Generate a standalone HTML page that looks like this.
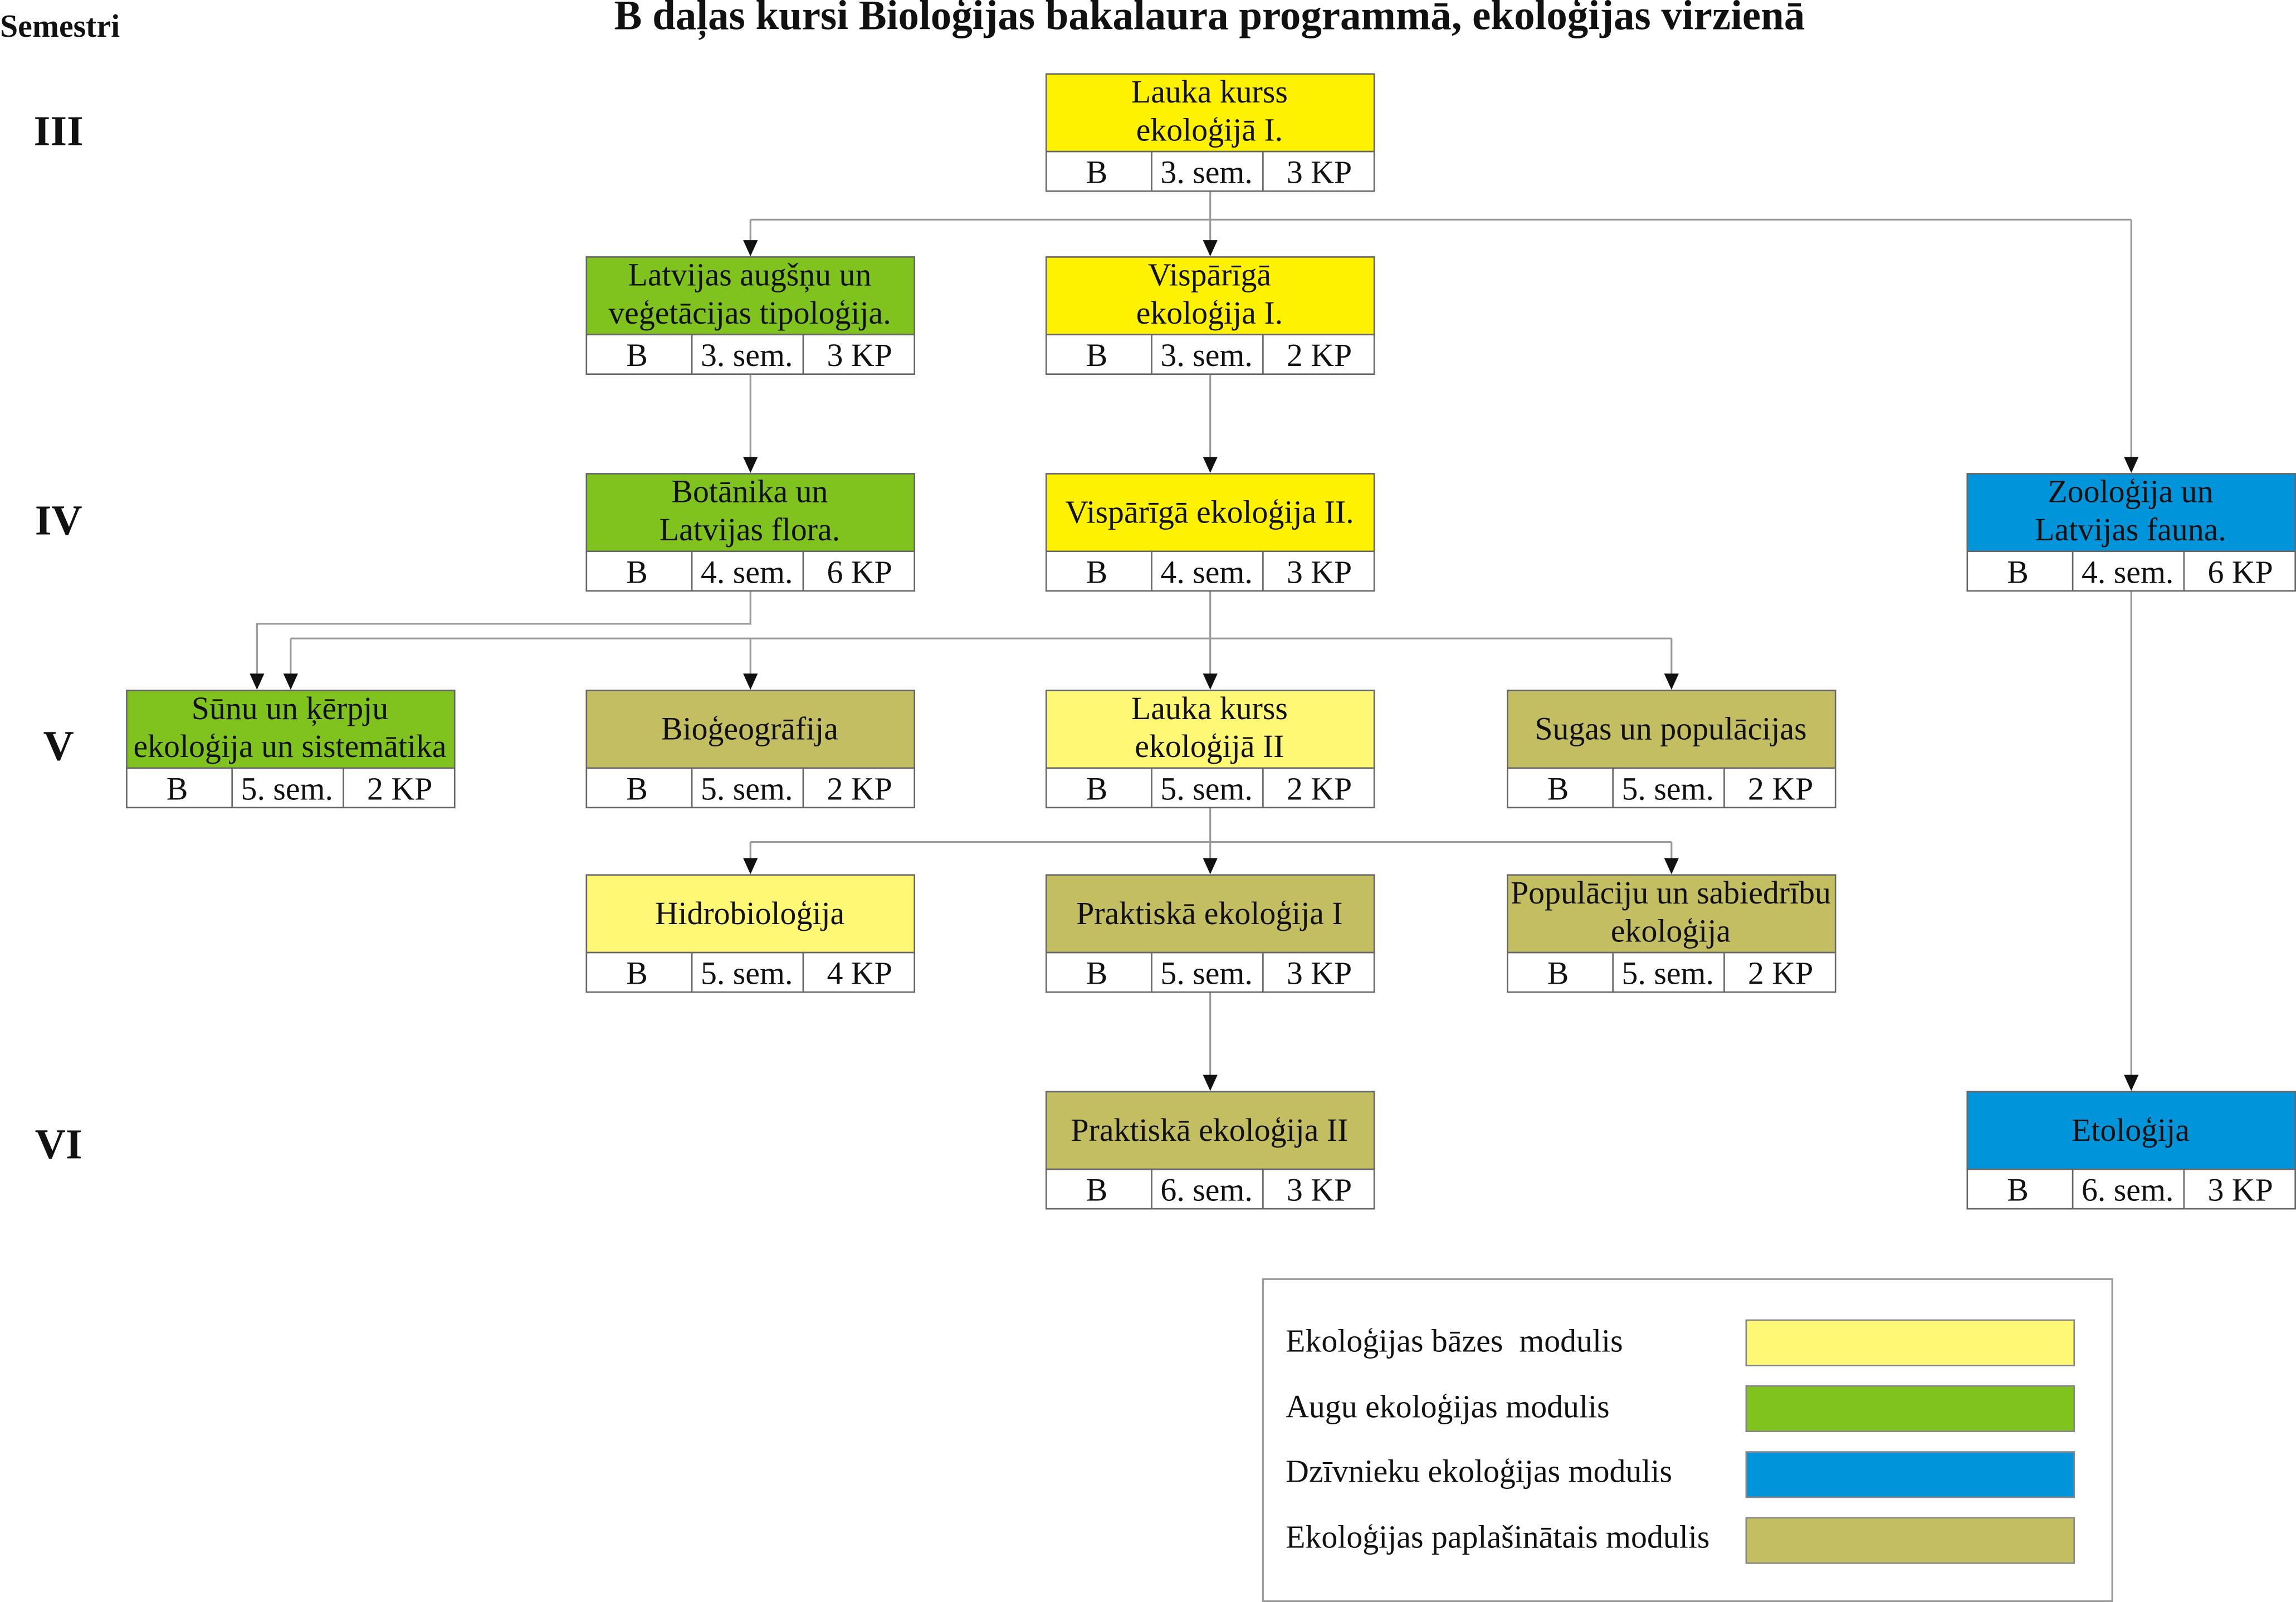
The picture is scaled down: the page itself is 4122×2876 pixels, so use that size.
<!DOCTYPE html>
<html><head><meta charset="utf-8">
<style>
html,body{margin:0;padding:0;background:#fff;}
svg{display:block;}
text{font-family:"Liberation Serif","DejaVu Serif",serif;fill:#111;}
.t{font-size:22px;text-anchor:middle;}
.b{font-weight:bold;}
</style></head>
<body>
<svg width="4122" height="2876" viewBox="0 0 1568 1094" xmlns="http://www.w3.org/2000/svg">
<text x="0" y="25" class="b" style="font-size:22px">Semestri</text>
<text x="826" y="20" class="t b" style="font-size:28.5px">B daļas kursi Bioloģijas bakalaura programmā, ekoloģijas virzienā</text>
<g class="b" style="font-size:29px;text-anchor:middle">
<text x="40" y="99">III</text>
<text x="40" y="365">IV</text>
<text x="40" y="519">V</text>
<text x="40" y="791">VI</text>
</g>

<g stroke="#999" stroke-width="1.2" fill="none">
<path d="M826.5,130 V150"/>
<path d="M512.5,150 H1455.5"/>
<path d="M512.5,150 V165"/>
<path d="M826.5,150 V165"/>
<path d="M1455.5,150 V313"/>
<path d="M512.5,255 V313"/>
<path d="M826.5,255 V313"/>
<path d="M512.5,403 V426 H175.5 V461"/>
<path d="M826.5,403 V436"/>
<path d="M198.5,436 H1141.5"/>
<path d="M198.5,436 V461"/>
<path d="M512.5,436 V461"/>
<path d="M826.5,436 V461"/>
<path d="M1141.5,436 V461"/>
<path d="M826.5,551 V575"/>
<path d="M512.5,575 H1141.5"/>
<path d="M512.5,575 V587"/>
<path d="M826.5,575 V587"/>
<path d="M1141.5,575 V587"/>
<path d="M826.5,677 V735"/>
<path d="M1455.5,403 V735"/>
</g>
<g fill="#111">
<polygon points="507.5,164 517.5,164 512.5,175"/>
<polygon points="821.5,164 831.5,164 826.5,175"/>
<polygon points="1450.5,312 1460.5,312 1455.5,323"/>
<polygon points="507.5,312 517.5,312 512.5,323"/>
<polygon points="821.5,312 831.5,312 826.5,323"/>
<polygon points="170.5,460 180.5,460 175.5,471"/>
<polygon points="193.5,460 203.5,460 198.5,471"/>
<polygon points="507.5,460 517.5,460 512.5,471"/>
<polygon points="821.5,460 831.5,460 826.5,471"/>
<polygon points="1136.5,460 1146.5,460 1141.5,471"/>
<polygon points="507.5,586 517.5,586 512.5,597"/>
<polygon points="821.5,586 831.5,586 826.5,597"/>
<polygon points="1136.5,586 1146.5,586 1141.5,597"/>
<polygon points="821.5,734 831.5,734 826.5,745"/>
<polygon points="1450.5,734 1460.5,734 1455.5,745"/>
</g>

<g stroke="#666" stroke-width="1">
<rect x="714.5" y="50.5" width="224" height="53" fill="#FFF200"/>
<rect x="714.5" y="103.5" width="224" height="27" fill="#fff"/>
<path d="M786.5,103.5V130.5M862.5,103.5V130.5"/>
<rect x="400.5" y="175.5" width="224" height="53" fill="#80C31F"/>
<rect x="400.5" y="228.5" width="224" height="27" fill="#fff"/>
<path d="M472.5,228.5V255.5M548.5,228.5V255.5"/>
<rect x="714.5" y="175.5" width="224" height="53" fill="#FFF200"/>
<rect x="714.5" y="228.5" width="224" height="27" fill="#fff"/>
<path d="M786.5,228.5V255.5M862.5,228.5V255.5"/>
<rect x="400.5" y="323.5" width="224" height="53" fill="#80C31F"/>
<rect x="400.5" y="376.5" width="224" height="27" fill="#fff"/>
<path d="M472.5,376.5V403.5M548.5,376.5V403.5"/>
<rect x="714.5" y="323.5" width="224" height="53" fill="#FFF200"/>
<rect x="714.5" y="376.5" width="224" height="27" fill="#fff"/>
<path d="M786.5,376.5V403.5M862.5,376.5V403.5"/>
<rect x="1343.5" y="323.5" width="224" height="53" fill="#0095DA"/>
<rect x="1343.5" y="376.5" width="224" height="27" fill="#fff"/>
<path d="M1415.5,376.5V403.5M1491.5,376.5V403.5"/>
<rect x="86.5" y="471.5" width="224" height="53" fill="#80C31F"/>
<rect x="86.5" y="524.5" width="224" height="27" fill="#fff"/>
<path d="M158.5,524.5V551.5M234.5,524.5V551.5"/>
<rect x="400.5" y="471.5" width="224" height="53" fill="#C3BE62"/>
<rect x="400.5" y="524.5" width="224" height="27" fill="#fff"/>
<path d="M472.5,524.5V551.5M548.5,524.5V551.5"/>
<rect x="714.5" y="471.5" width="224" height="53" fill="#FFF875"/>
<rect x="714.5" y="524.5" width="224" height="27" fill="#fff"/>
<path d="M786.5,524.5V551.5M862.5,524.5V551.5"/>
<rect x="1029.5" y="471.5" width="224" height="53" fill="#C3BE62"/>
<rect x="1029.5" y="524.5" width="224" height="27" fill="#fff"/>
<path d="M1101.5,524.5V551.5M1177.5,524.5V551.5"/>
<rect x="400.5" y="597.5" width="224" height="53" fill="#FFF875"/>
<rect x="400.5" y="650.5" width="224" height="27" fill="#fff"/>
<path d="M472.5,650.5V677.5M548.5,650.5V677.5"/>
<rect x="714.5" y="597.5" width="224" height="53" fill="#C3BE62"/>
<rect x="714.5" y="650.5" width="224" height="27" fill="#fff"/>
<path d="M786.5,650.5V677.5M862.5,650.5V677.5"/>
<rect x="1029.5" y="597.5" width="224" height="53" fill="#C3BE62"/>
<rect x="1029.5" y="650.5" width="224" height="27" fill="#fff"/>
<path d="M1101.5,650.5V677.5M1177.5,650.5V677.5"/>
<rect x="714.5" y="745.5" width="224" height="53" fill="#C3BE62"/>
<rect x="714.5" y="798.5" width="224" height="27" fill="#fff"/>
<path d="M786.5,798.5V825.5M862.5,798.5V825.5"/>
<rect x="1343.5" y="745.5" width="224" height="53" fill="#0095DA"/>
<rect x="1343.5" y="798.5" width="224" height="27" fill="#fff"/>
<path d="M1415.5,798.5V825.5M1491.5,798.5V825.5"/>
</g>

<g class="t">
<text x="826" y="70">Lauka kurss</text><text x="826" y="96">ekoloģijā I.</text>
<text x="749" y="125">B</text><text x="824" y="125">3. sem.</text><text x="901" y="125">3 KP</text>

<text x="512" y="195">Latvijas augšņu un</text><text x="512" y="221">veģetācijas tipoloģija.</text>
<text x="435" y="250">B</text><text x="510" y="250">3. sem.</text><text x="587" y="250">3 KP</text>

<text x="826" y="195">Vispārīgā</text><text x="826" y="221">ekoloģija I.</text>
<text x="749" y="250">B</text><text x="824" y="250">3. sem.</text><text x="901" y="250">2 KP</text>

<text x="512" y="343">Botānika un</text><text x="512" y="369">Latvijas flora.</text>
<text x="435" y="398">B</text><text x="510" y="398">4. sem.</text><text x="587" y="398">6 KP</text>

<text x="826" y="357">Vispārīgā ekoloģija II.</text>
<text x="749" y="398">B</text><text x="824" y="398">4. sem.</text><text x="901" y="398">3 KP</text>

<text x="1455" y="343">Zooloģija un</text><text x="1455" y="369">Latvijas fauna.</text>
<text x="1378" y="398">B</text><text x="1453" y="398">4. sem.</text><text x="1530" y="398">6 KP</text>

<text x="198" y="491">Sūnu un ķērpju</text><text x="198" y="517">ekoloģija un sistemātika</text>
<text x="121" y="546">B</text><text x="196" y="546">5. sem.</text><text x="273" y="546">2 KP</text>

<text x="512" y="505">Bioģeogrāfija</text>
<text x="435" y="546">B</text><text x="510" y="546">5. sem.</text><text x="587" y="546">2 KP</text>

<text x="826" y="491">Lauka kurss</text><text x="826" y="517">ekoloģijā II</text>
<text x="749" y="546">B</text><text x="824" y="546">5. sem.</text><text x="901" y="546">2 KP</text>

<text x="1141" y="505">Sugas un populācijas</text>
<text x="1064" y="546">B</text><text x="1139" y="546">5. sem.</text><text x="1216" y="546">2 KP</text>

<text x="512" y="631">Hidrobioloģija</text>
<text x="435" y="672">B</text><text x="510" y="672">5. sem.</text><text x="587" y="672">4 KP</text>

<text x="826" y="631">Praktiskā ekoloģija I</text>
<text x="749" y="672">B</text><text x="824" y="672">5. sem.</text><text x="901" y="672">3 KP</text>

<text x="1141" y="617">Populāciju un sabiedrību</text><text x="1141" y="643">ekoloģija</text>
<text x="1064" y="672">B</text><text x="1139" y="672">5. sem.</text><text x="1216" y="672">2 KP</text>

<text x="826" y="779">Praktiskā ekoloģija II</text>
<text x="749" y="820">B</text><text x="824" y="820">6. sem.</text><text x="901" y="820">3 KP</text>

<text x="1455" y="779">Etoloģija</text>
<text x="1378" y="820">B</text><text x="1453" y="820">6. sem.</text><text x="1530" y="820">3 KP</text>
</g>

<rect x="862.5" y="873.5" width="580" height="220" fill="#fff" stroke="#999" stroke-width="1.2"/>
<g stroke="#888" stroke-width="1">
<rect x="1192.5" y="901.5" width="224" height="31" fill="#FFF875"/>
<rect x="1192.5" y="946.5" width="224" height="31" fill="#80C31F"/>
<rect x="1192.5" y="991.5" width="224" height="31" fill="#0095DA"/>
<rect x="1192.5" y="1036.5" width="224" height="31" fill="#C3BE62"/>
</g>
<g style="font-size:22px">
<text x="878" y="923" xml:space="preserve">Ekoloģijas bāzes  modulis</text>
<text x="878" y="968">Augu ekoloģijas modulis</text>
<text x="878" y="1012">Dzīvnieku ekoloģijas modulis</text>
<text x="878" y="1057">Ekoloģijas paplašinātais modulis</text>
</g>
</svg>
</body></html>
